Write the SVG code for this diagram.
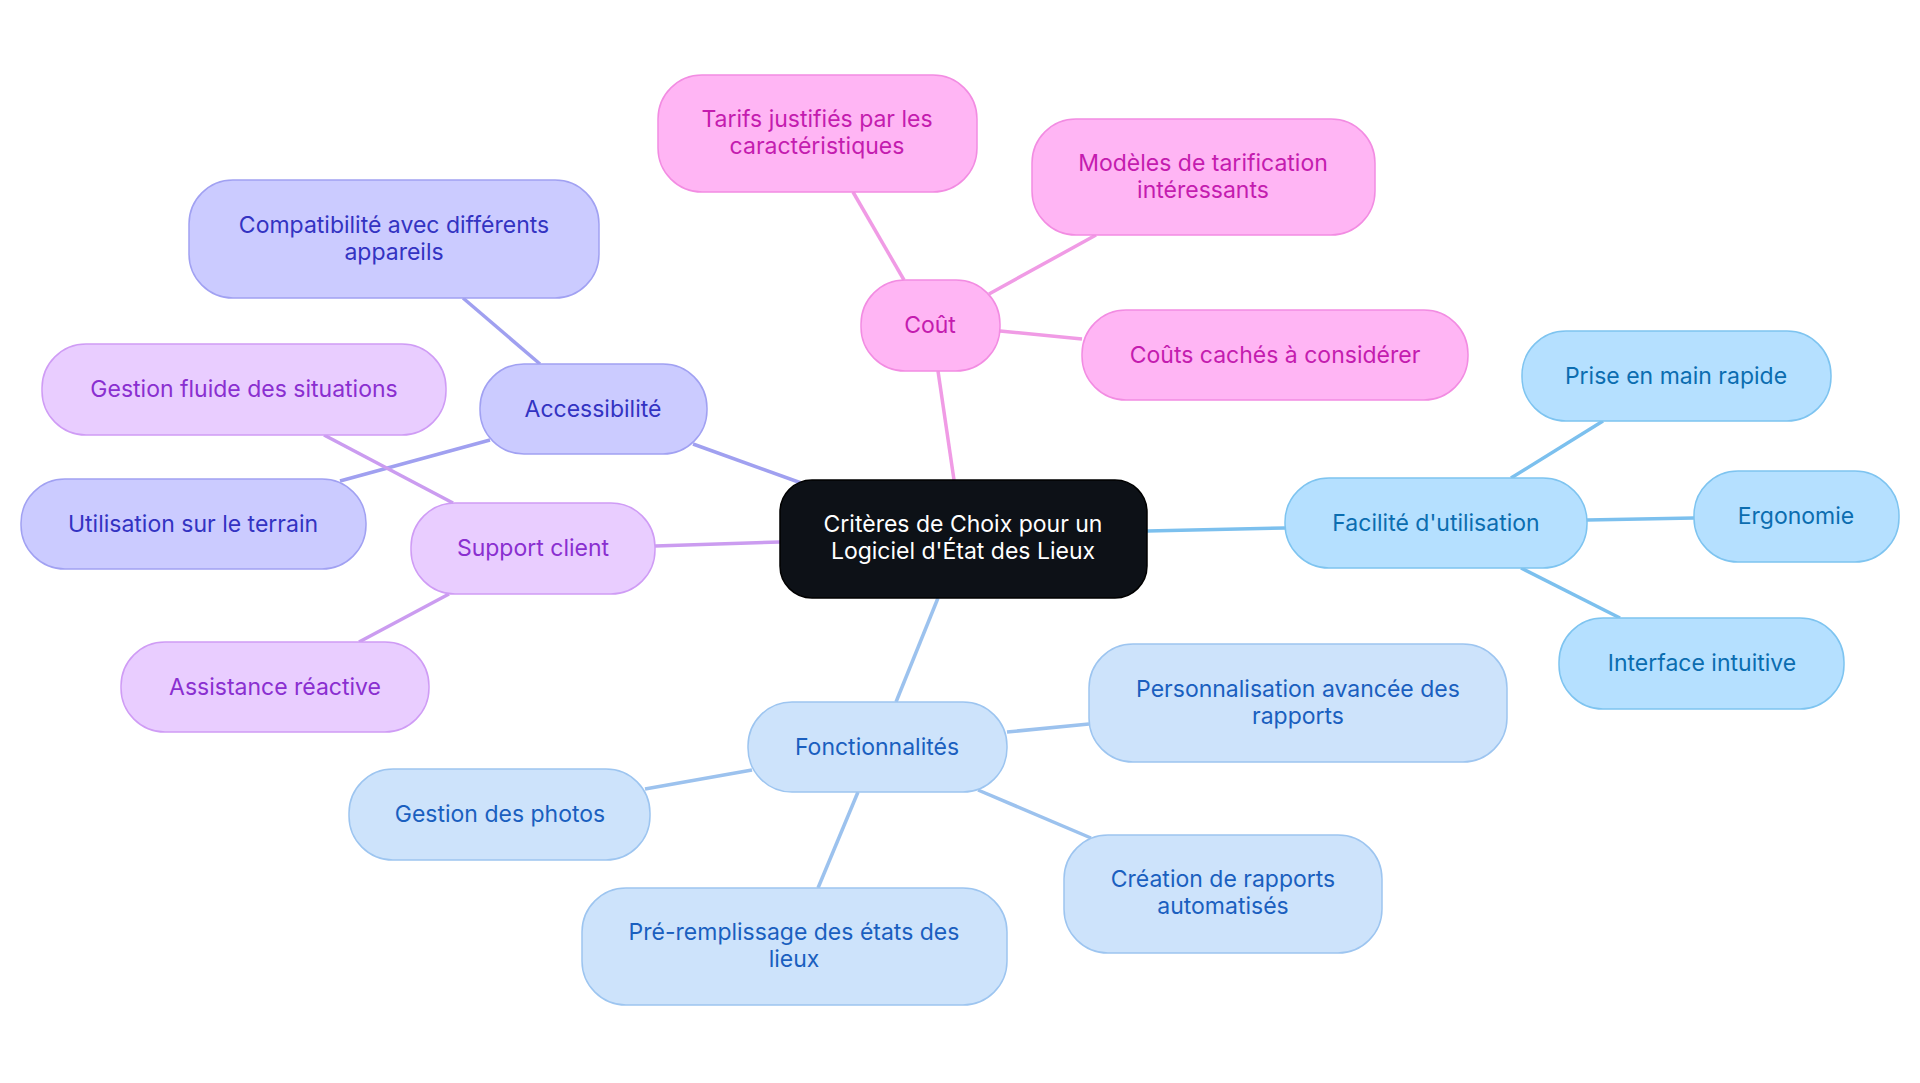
<svg xmlns="http://www.w3.org/2000/svg" width="1920" height="1083" viewBox="0 0 1920 1083">
<style>
text{font-family:Inter,"Noto Sans",sans-serif;font-size:23px;text-anchor:middle;dominant-baseline:central}
rect{stroke-width:1.5}
.c rect{fill:#0d1117;stroke:#000}.c text{fill:#fff}
.p rect{fill:#ffb5f4;stroke:#f28ce2}.p text{fill:#c41caf}
.v rect{fill:#cbcbff;stroke:#a1a1f2}.v text{fill:#3333c2}
.l rect{fill:#e9cdff;stroke:#cf9cf5}.l text{fill:#8a2fd0}
.s rect{fill:#b5e0ff;stroke:#7ec4f0}.s text{fill:#0b6db0}
.b rect{fill:#cde3fb;stroke:#9dc5f0}.b text{fill:#1a5fbf}
#edges line{stroke-width:3.5}
.ep{stroke:#f09be5}.ev{stroke:#a0a0f0}.el{stroke:#cb9cf0}.es{stroke:#7cc0ee}.eb{stroke:#9cc2ee}
</style>
<rect width="1920" height="1083" fill="#fff"/>
<g id="edges">
<line class="ep" x1="954" y1="480" x2="938" y2="371"/>
<line class="ep" x1="904" y1="280" x2="853" y2="192"/>
<line class="ep" x1="989" y1="294" x2="1096" y2="235"/>
<line class="ep" x1="1000" y1="331" x2="1082" y2="339"/>
<line class="ev" x1="804" y1="484" x2="693" y2="444"/>
<line class="ev" x1="540" y1="364" x2="463" y2="298"/>
<line class="ev" x1="490" y1="440" x2="340" y2="481"/>
<line class="el" x1="780" y1="542" x2="655" y2="546"/>
<line class="el" x1="453" y1="503" x2="324" y2="435"/>
<line class="el" x1="449" y1="594" x2="359" y2="642"/>
<line class="es" x1="1147" y1="531" x2="1285" y2="528"/>
<line class="es" x1="1511" y1="478" x2="1603" y2="421"/>
<line class="es" x1="1587" y1="520" x2="1694" y2="518"/>
<line class="es" x1="1521" y1="568" x2="1620" y2="618"/>
<line class="eb" x1="938" y1="598" x2="896" y2="702"/>
<line class="eb" x1="1007" y1="732" x2="1089" y2="724"/>
<line class="eb" x1="752" y1="770" x2="645" y2="789"/>
<line class="eb" x1="858" y1="792" x2="818" y2="888"/>
<line class="eb" x1="978" y1="790" x2="1091" y2="838"/>
</g>
<g id="center" class="c"><rect x="780" y="480" width="367" height="118" rx="32"/><text x="963" y="524">Critères de Choix pour un</text><text x="963" y="551">Logiciel d'État des Lieux</text></g>
<g id="cout" class="p"><rect x="861" y="280" width="139" height="91" rx="44"/><text x="930" y="325">Coût</text></g>
<g id="tarifs" class="p"><rect x="658" y="75" width="319" height="117" rx="44"/><text x="817" y="119">Tarifs justifiés par les</text><text x="817" y="146">caractéristiques</text></g>
<g id="modeles" class="p"><rect x="1032" y="119" width="343" height="116" rx="44"/><text x="1203" y="163">Modèles de tarification</text><text x="1203" y="190">intéressants</text></g>
<g id="caches" class="p"><rect x="1082" y="310" width="386" height="90" rx="44"/><text x="1275" y="355">Coûts cachés à considérer</text></g>
<g id="access" class="v"><rect x="480" y="364" width="227" height="90" rx="44"/><text x="593" y="409">Accessibilité</text></g>
<g id="compat" class="v"><rect x="189" y="180" width="410" height="118" rx="44"/><text x="394" y="225">Compatibilité avec différents</text><text x="394" y="252">appareils</text></g>
<g id="terrain" class="v"><rect x="21" y="479" width="345" height="90" rx="44"/><text x="193" y="524">Utilisation sur le terrain</text></g>
<g id="support" class="l"><rect x="411" y="503" width="244" height="91" rx="44"/><text x="533" y="548">Support client</text></g>
<g id="fluide" class="l"><rect x="42" y="344" width="404" height="91" rx="44"/><text x="244" y="389">Gestion fluide des situations</text></g>
<g id="assist" class="l"><rect x="121" y="642" width="308" height="90" rx="44"/><text x="275" y="687">Assistance réactive</text></g>
<g id="facilite" class="s"><rect x="1285" y="478" width="302" height="90" rx="44"/><text x="1436" y="523">Facilité d'utilisation</text></g>
<g id="prise" class="s"><rect x="1522" y="331" width="309" height="90" rx="44"/><text x="1676" y="376">Prise en main rapide</text></g>
<g id="ergo" class="s"><rect x="1694" y="471" width="205" height="91" rx="44"/><text x="1796" y="516">Ergonomie</text></g>
<g id="interface" class="s"><rect x="1559" y="618" width="285" height="91" rx="44"/><text x="1702" y="663">Interface intuitive</text></g>
<g id="fonc" class="b"><rect x="748" y="702" width="259" height="90" rx="44"/><text x="877" y="747">Fonctionnalités</text></g>
<g id="perso" class="b"><rect x="1089" y="644" width="418" height="118" rx="44"/><text x="1298" y="689">Personnalisation avancée des</text><text x="1298" y="716">rapports</text></g>
<g id="photos" class="b"><rect x="349" y="769" width="301" height="91" rx="44"/><text x="500" y="814">Gestion des photos</text></g>
<g id="pre" class="b"><rect x="582" y="888" width="425" height="117" rx="44"/><text x="794" y="932">Pré-remplissage des états des</text><text x="794" y="959">lieux</text></g>
<g id="creation" class="b"><rect x="1064" y="835" width="318" height="118" rx="44"/><text x="1223" y="879">Création de rapports</text><text x="1223" y="906">automatisés</text></g>
</svg>
